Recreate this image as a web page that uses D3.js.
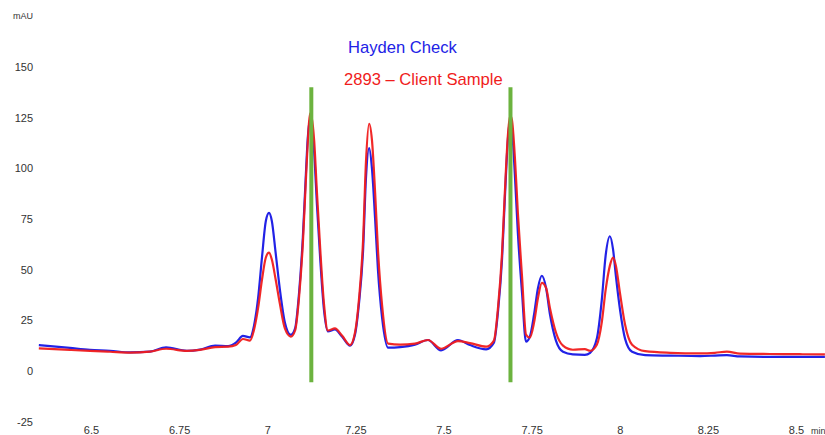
<!DOCTYPE html>
<html>
<head>
<meta charset="utf-8">
<script src="https://cdn.jsdelivr.net/npm/d3@7/dist/d3.min.js"></script>
<style>
  html, body { margin: 0; padding: 0; background: #fff; }
  svg { display: block; }
  text { font-family: "Liberation Sans", Arial, Helvetica, sans-serif; }
</style>
</head>
<body>
<svg id="chart" width="825" height="435"></svg>
<script>
// ---- data ----
const times = [6.352, 6.440, 6.497, 6.554, 6.611, 6.667, 6.713, 6.772, 6.809, 6.852,
  6.889, 6.911, 6.931, 6.951, 6.962, 6.974, 6.985, 6.996, 7.005, 7.013,
  7.024, 7.036, 7.050, 7.067, 7.079, 7.090, 7.101, 7.109, 7.115, 7.121,
  7.126, 7.133, 7.141, 7.150, 7.161, 7.172, 7.192, 7.212, 7.235, 7.249,
  7.260, 7.272, 7.280, 7.289, 7.297, 7.306, 7.314, 7.326, 7.343, 7.377,
  7.419, 7.456, 7.493, 7.541, 7.575, 7.621, 7.643, 7.655, 7.666, 7.674,
  7.683, 7.689, 7.694, 7.703, 7.711, 7.723, 7.734, 7.745, 7.757, 7.768,
  7.779, 7.791, 7.802, 7.819, 7.839, 7.867, 7.901, 7.916, 7.935, 7.949,
  7.960, 7.972, 7.981, 7.989, 8.001, 8.015, 8.035, 8.072, 8.143, 8.228,
  8.270, 8.304, 8.341, 8.426, 8.511, 8.582];

const hayden = [12.8, 11.4, 10.5, 10.0, 9.2, 9.6, 11.7, 10.0, 10.6, 12.5,
  12.3, 14.0, 17.3, 16.6, 22, 36, 56, 74, 78, 74,
  58, 40, 24, 17.8, 21, 38, 66, 95, 115, 124,
  121, 108, 82, 56, 30, 19.5, 20.5, 17, 12.5, 18,
  33, 60, 95, 110, 100, 75, 50, 26, 11.5, 11.8,
  13, 15.3, 10.2, 15.3, 12.8, 10.7, 14, 30, 55, 85,
  115, 124, 120, 95, 68, 38, 14.5, 17, 28, 41,
  47, 41, 28, 15, 9.5, 8.2, 8.0, 9, 16, 35,
  57, 66.5, 60, 47, 30, 16, 9.5, 7.8, 7.6, 7.4,
  7.6, 7.8, 7.2, 7.0, 7.0, 7.0];

const client = [11.2, 10.4, 9.9, 9.5, 9.1, 9.6, 11.0, 9.9, 10.4, 11.8,
  12.0, 12.8, 15.8, 15.0, 20, 31, 45, 56, 58.4, 55,
  45, 33, 21, 17, 20, 36, 63, 92, 113, 127,
  125, 114, 88, 61, 33, 20, 21, 17.5, 12.8, 19,
  35, 65, 103, 122, 114, 88, 60, 32, 13.5, 13,
  13.5, 15.3, 11, 14.8, 13.8, 12.0, 15, 32, 58, 88,
  117, 126, 124, 104, 78, 46, 18, 16.5, 24, 36,
  43.5, 41, 31, 19, 12.5, 10.5, 10.8, 10, 13, 24,
  40, 52, 56, 52, 38, 23, 13, 9.8, 9.0, 8.7,
  9.0, 9.6, 8.6, 8.4, 8.3, 8.2];

const markerTimes = [7.125, 7.690];
const markerRange = [140, -5.5];
const xTicks = [6.5, 6.75, 7, 7.25, 7.5, 7.75, 8, 8.25, 8.5];
const yTicks = [-25, 0, 25, 50, 75, 100, 125, 150];
const seriesNames = ["Hayden Check", "2893 \u2013 Client Sample"];
const yUnit = "mAU";
const xUnit = "min";

// ---- drawing ----
const svg = d3.select("#chart");
const x = d3.scaleLinear().domain([6.5, 8.5]).range([91, 796]);
const y = d3.scaleLinear().domain([-25, 150]).range([421.7, 67]);

const blue = "#2222e6";
const red = "#f01c1c";
const green = "#6cb33f";

// axes (labels only)
const yAxis = d3.axisLeft(y).tickValues(yTicks).tickSize(0).tickPadding(3)
  .tickFormat(d => String(d));
const gy = svg.append("g").attr("transform", "translate(36,0)").call(yAxis);
gy.select(".domain").remove();
gy.selectAll("text").attr("font-size", 11).attr("fill", "#333")
  .style("font-family", "'Liberation Sans', Arial, sans-serif");

const xAxis = d3.axisBottom(x).tickValues(xTicks).tickSize(0).tickPadding(3)
  .tickFormat(d => String(d));
const gx = svg.append("g").attr("transform", "translate(0,423)").call(xAxis);
gx.select(".domain").remove();
gx.selectAll("text").attr("font-size", 11).attr("fill", "#333")
  .style("font-family", "'Liberation Sans', Arial, sans-serif");

svg.append("text").attr("x", 33).attr("y", 19).attr("text-anchor", "end")
  .attr("font-size", 9).attr("fill", "#333").text(yUnit);
svg.append("text").attr("x", 811).attr("y", 434).attr("text-anchor", "start")
  .attr("font-size", 9).attr("fill", "#333").text(xUnit);

// lines
const line = d3.line()
  .x((d, i) => x(times[i]))
  .y(d => y(d))
  .curve(d3.curveMonotoneX);

svg.append("path").datum(hayden).attr("d", line)
  .attr("fill", "none").attr("stroke", blue).attr("stroke-width", 2.2)
  .attr("stroke-linejoin", "round");
svg.append("path").datum(client).attr("d", line)
  .attr("fill", "none").attr("stroke", red).attr("stroke-width", 2.2)
  .attr("stroke-linejoin", "round").attr("stroke-opacity", 0.95);

// markers
svg.selectAll("line.marker").data(markerTimes).enter().append("line")
  .attr("class", "marker")
  .attr("x1", d => x(d)).attr("x2", d => x(d))
  .attr("y1", y(markerRange[0])).attr("y2", y(markerRange[1]))
  .attr("stroke", green).attr("stroke-width", 4);

// legend text
svg.append("text").attr("x", 348).attr("y", 52.5).attr("font-size", 16.6)
  .attr("fill", blue).text(seriesNames[0]);
svg.append("text").attr("x", 344).attr("y", 84.5).attr("font-size", 16.6)
  .attr("fill", red).text(seriesNames[1]);
</script>
</body>
</html>
